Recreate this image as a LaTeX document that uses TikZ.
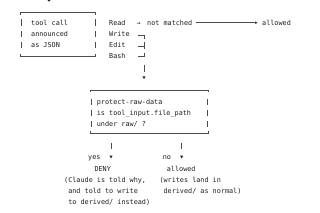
\documentclass[tikz,border=0pt]{standalone}
\usepackage{fontspec}
\newfontfamily\monofont{DejaVu Sans Mono}
\usetikzlibrary{arrows.meta}
\newcommand\mydtri[2]{\fill[black!85] (#1-1.6,#2-1.4) -- (#1+1.6,#2-1.4) -- (#1,#2+1.5) -- cycle;}
\begin{document}
\begin{tikzpicture}[x=1pt,y=-1pt,
  txt/.style={font=\monofont\fontsize{6.8}{8}\selectfont, inner sep=0pt, anchor=west,
              text height=5.2pt, text depth=0pt, text=black!88},
  ln/.style={draw=black!70, line width=0.5pt},
  arw/.style={ln, -{Latex[length=3pt,width=2.8pt]}}
]
\useasboundingbox (0,0) rectangle (320,213);
\fill[white] (0,0) rectangle (320,213);
% fragment of an arrow from above
\fill[black!85] (47.4,0) -- (50.6,0) -- (49,1.6) -- cycle;

% box 1
\draw[ln] (20,14.8) -- (20,12.7) -- (95,12.7) -- (95,14.8);
\draw[ln] (20,53.8) -- (20,56) -- (95,56) -- (95,53.8);
\foreach \y in {22.7,34,45.3} {
  \draw[ln] (21,\y-3.2) -- (21,\y+3.2);
  \draw[ln] (95,\y-3.2) -- (95,\y+3.2);
}
\node[txt] (t1) at (31,22.7) {tool call};
\node[txt] (t2) at (31,34) {announced};
\node[txt] (t3) at (31,45.3) {as JSON};

% tool list
\node[txt] (read) at (109,22.7) {Read};
\node[txt] (write) at (109,34) {Write};
\node[txt] (edit) at (109,45.3) {Edit};
\node[txt] (bash) at (109,56.3) {Bash};
\node[txt] (arr) at (136.5,22.7) {→};
\node[txt] (nm) at (147,22.7) {not matched};
\node[txt] (al) at (262,22.7) {allowed};
\draw[arw] ([xshift=3.5pt]nm.east) -- ([xshift=-4pt]al.west);

% bracket
\draw[ln] (138,35) -- (144,35) -- (144,38.8);
\draw[ln] (144,42.2) -- (144,49.4);
\draw[ln] (138,45.8) -- (144,45.8);
\draw[ln] (144,52.6) -- (144,56) -- (138,56);
\coordinate (b1) at (144,65);
\coordinate (b2) at (144,72);
\draw[ln] (b1) -- (b2);
\mydtri{144}{77.7}

% box 2
\draw[ln] (90.7,92.1) -- (90.7,90) -- (208,90) -- (208,92.1);
\draw[ln] (90.7,131.2) -- (90.7,133.3) -- (208,133.3) -- (208,131.2);
\foreach \y in {102.3,113.3,124.3} {
  \draw[ln] (91.5,\y-3.2) -- (91.5,\y+3.2);
  \draw[ln] (207.5,\y-3.2) -- (207.5,\y+3.2);
}
\node[txt] (p1) at (96.7,102.3) {protect-raw-data};
\node[txt] (p2) at (96.7,113.3) {is tool\_input.file\_path};
\node[txt] (p3) at (96.7,124.3) {under raw/ ?};

% branches
\draw[ln] (111,142.7) -- (111,149.3);
\draw[ln] (181.7,142.7) -- (181.7,149.3);
\mydtri{111}{157}
\mydtri{181.7}{157}
\node[txt] (yes) at (88,157.3) {yes};
\node[txt] (no) at (162.7,157.3) {no};
\node[txt] (deny) at (94.3,168.7) {DENY};
\node[txt] (allow2) at (166.7,168.7) {allowed};
\node[txt] (c1) at (64,180) {(Claude is told why,};
\node[txt] (c2) at (68.1,190.8) {and told to write};
\node[txt] (c3) at (68.1,201.7) {to derived/ instead)};
\node[txt] (w1) at (159.3,180) {(writes land in};
\node[txt] (w2) at (163.4,190.8) {derived/ as normal)};
\end{tikzpicture}
\end{document}
